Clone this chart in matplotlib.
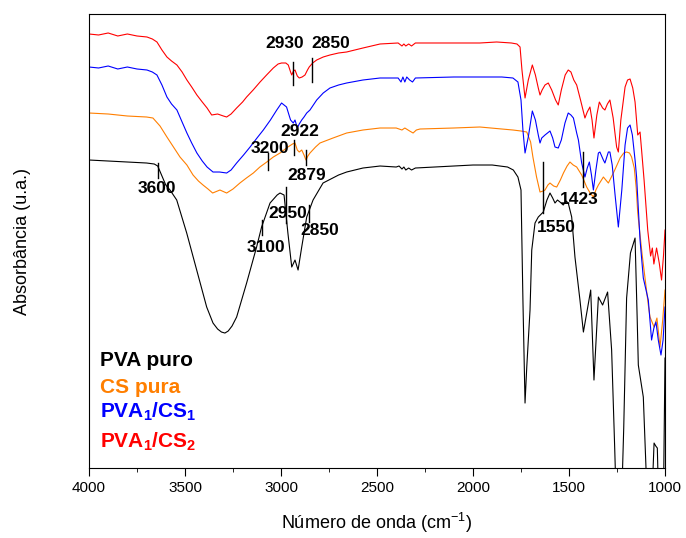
import matplotlib
matplotlib.use("Agg")
import matplotlib.pyplot as plt
import numpy as np

plt.rcParams["font.family"] = ["Liberation Sans", "DejaVu Sans"]
plt.rcParams["mathtext.fontset"] = "custom"
plt.rcParams["mathtext.rm"] = "Liberation Sans"
plt.rcParams["mathtext.bf"] = "Liberation Sans:bold"

# FTIR spectra (wavenumber cm-1, absorbance in arbitrary units)
pva_w = [4000, 3900, 3800, 3700, 3660, 3642, 3600, 3578, 3543, 3491, 3439, 3387, 3354, 3330,
         3310, 3292, 3275, 3255, 3231, 3179, 3127, 3101, 3057, 3020, 3005, 2984, 2964, 2944,
         2927, 2911, 2892, 2866, 2833, 2781, 2700, 2658, 2573, 2484, 2400, 2385, 2370, 2360,
         2350, 2335, 2320, 2300, 2200, 2000, 1900, 1820, 1790, 1766, 1750, 1740, 1729, 1720,
         1703, 1694, 1677, 1660, 1634, 1615, 1599, 1585, 1573, 1560, 1547, 1530, 1515, 1504,
         1486, 1469, 1443, 1425, 1405, 1387, 1370, 1347, 1325, 1299, 1278, 1262, 1250, 1230,
         1215, 1200, 1180, 1156, 1145, 1139, 1113, 1099, 1085, 1070, 1057, 1048, 1040, 1030,
         1020, 1008, 1000]
pva_a = [308, 307, 306, 305, 304, 302, 283, 278, 268, 235, 198, 161, 145, 139,
         136, 135, 137, 142, 151, 185, 221, 241, 265, 273, 275, 273, 235, 201,
         208, 198, 221, 251, 268, 285, 293, 296, 300, 302, 301, 302, 299, 301,
         298, 300, 298, 300, 301, 303, 303, 301, 298, 291, 278, 168, 65, 101,
         158, 218, 245, 251, 256, 268, 275, 270, 265, 268, 266, 263, 267, 265,
         251, 211, 168, 136, 158, 178, 88, 171, 163, 176, 118, 20, -60, -60,
         40, 170, 215, 230, 150, 103, 71, 0, -60, -40, 25, 22, 20, -60,
         -60, -30, 110]

cs_w = [4000, 3900, 3800, 3700, 3667, 3630, 3594, 3560, 3526, 3490, 3458, 3430, 3406, 3380,
        3356, 3318, 3283, 3250, 3214, 3180, 3144, 3110, 3074, 3040, 3005, 2964, 2940, 2927,
        2915, 2905, 2892, 2880, 2870, 2860, 2849, 2820, 2797, 2729, 2658, 2573, 2484, 2400,
        2370, 2355, 2330, 2312, 2295, 2276, 2100, 1964, 1850, 1792, 1750, 1720, 1700, 1688,
        1669, 1651, 1635, 1625, 1610, 1599, 1580, 1564, 1545, 1529, 1510, 1495, 1478, 1460,
        1434, 1408, 1390, 1373, 1360, 1347, 1321, 1308, 1295, 1269, 1250, 1234, 1215, 1200,
        1185, 1174, 1160, 1150, 1142, 1120, 1087, 1078, 1057, 1042, 1026, 1012, 1000]
cs_a = [355, 354, 352, 351, 350, 342, 331, 321, 311, 303, 293, 287, 283, 279,
        275, 278, 275, 279, 285, 290, 295, 301, 306, 311, 315, 321, 324, 325,
        318, 316, 318, 313, 308, 312, 315, 321, 325, 330, 335, 338, 340, 340,
        338, 340, 337, 335, 338, 339, 340, 341, 339, 338, 337, 336, 326, 311,
        291, 276, 277, 278, 283, 285, 282, 281, 288, 295, 302, 306, 303, 301,
        293, 281, 275, 271, 278, 283, 291, 288, 285, 295, 303, 310, 315, 316,
        315, 311, 300, 280, 255, 215, 163, 151, 141, 150, 121, 148, 178]

pc1_w = [4000, 3950, 3900, 3850, 3800, 3750, 3698, 3670, 3646, 3620, 3594, 3570, 3542, 3515,
         3490, 3465, 3438, 3410, 3385, 3354, 3320, 3283, 3260, 3231, 3195, 3161, 3125, 3092,
         3055, 3022, 2997, 2971, 2955, 2950, 2936, 2927, 2915, 2905, 2892, 2880, 2866, 2849,
         2814, 2780, 2745, 2700, 2658, 2573, 2484, 2390, 2375, 2365, 2355, 2345, 2330, 2315,
         2300, 2100, 1964, 1850, 1792, 1766, 1750, 1740, 1729, 1712, 1691, 1675, 1660, 1651,
         1642, 1625, 1599, 1585, 1573, 1556, 1540, 1521, 1504, 1490, 1477, 1460, 1451, 1434,
         1417, 1405, 1394, 1383, 1373, 1360, 1347, 1339, 1321, 1313, 1295, 1287, 1275, 1260,
         1243, 1225, 1208, 1195, 1182, 1170, 1156, 1148, 1130, 1113, 1087, 1070, 1058, 1047,
         1035, 1021, 1010, 1000]
pc1_a = [401, 400, 402, 399, 401, 399, 398, 396, 393, 383, 371, 364, 358, 346,
         335, 325, 315, 307, 301, 296, 296, 295, 298, 305, 313, 321, 330, 338,
         348, 358, 365, 361, 351, 348, 345, 348, 340, 344, 348, 351, 355, 358,
         368, 375, 380, 383, 385, 388, 390, 390, 386, 391, 386, 391, 388, 386,
         390, 391, 391, 391, 390, 386, 368, 338, 315, 331, 357, 348, 333, 325,
         330, 333, 337, 330, 321, 320, 328, 345, 355, 353, 350, 335, 328, 305,
         291, 300, 306, 293, 278, 298, 315, 316, 308, 305, 316, 316, 303, 273,
         241, 278, 323, 340, 343, 333, 308, 291, 228, 190, 168, 128, 140, 146,
         128, 113, 128, 161]

pc2_w = [4000, 3950, 3900, 3850, 3800, 3750, 3698, 3670, 3646, 3620, 3594, 3570, 3542, 3515,
         3490, 3465, 3438, 3410, 3385, 3361, 3330, 3300, 3283, 3260, 3231, 3200, 3179, 3145,
         3109, 3075, 3040, 3015, 2997, 2975, 2962, 2950, 2944, 2935, 2927, 2915, 2905, 2890,
         2875, 2862, 2853, 2835, 2814, 2780, 2745, 2700, 2658, 2573, 2484, 2390, 2370, 2360,
         2350, 2335, 2320, 2300, 2100, 1964, 1877, 1800, 1771, 1755, 1745, 1729, 1712, 1691,
         1675, 1660, 1651, 1640, 1625, 1608, 1590, 1570, 1556, 1540, 1520, 1504, 1490, 1475,
         1460, 1440, 1417, 1405, 1391, 1380, 1370, 1355, 1342, 1325, 1313, 1300, 1287, 1270,
         1252, 1243, 1230, 1208, 1195, 1182, 1168, 1156, 1142, 1130, 1122, 1109, 1090, 1075,
         1066, 1058, 1044, 1030, 1018, 1008, 1000]
pc2_a = [434, 433, 435, 432, 434, 432, 431, 429, 426, 418, 411, 407, 403, 396,
         388, 381, 373, 366, 360, 353, 354, 352, 351, 354, 360, 366, 371, 378,
         386, 393, 400, 404, 405, 405, 403, 396, 393, 397, 398, 392, 390, 391,
         393, 398, 401, 405, 408, 411, 413, 415, 416, 420, 424, 425, 422, 424,
         422, 424, 422, 425, 425, 425, 426, 425, 424, 421, 398, 370, 388, 403,
         393, 380, 373, 378, 383, 385, 378, 368, 363, 378, 393, 398, 396, 388,
         383, 368, 350, 356, 361, 348, 330, 353, 366, 360, 358, 364, 368, 350,
         321, 316, 348, 381, 388, 389, 380, 366, 333, 336, 318, 288, 238, 212,
         220, 204, 220, 205, 188, 212, 238]

# peak markers: tick position, tick span, label text and label position
mark_w = [2936, 2840, 2931, 3066, 2870, 3642, 2974, 2853, 3101, 1634, 1425]
mark_lo = [383, 386, 313, 298, 303, 290, 245, 246, 233, 255, 281]
mark_hi = [406, 410, 328, 315, 318, 305, 281, 263, 248, 306, 316]
mark_txt = ["2930", "2850", "2922", "3200", "2879", "3600", "2950", "2850", "3100", "1550", "1423"]
mark_tx = [2979, 2740, 2901, 3057, 2865, 3646, 2964, 2797, 3078, 1568, 1448]
mark_ty = [424, 424, 337, 320, 293, 280, 255, 238, 221, 241, 269]

fig = plt.figure(figsize=(6.86, 5.38), dpi=100)
ax = fig.add_axes([0.1297, 0.130, 0.8397, 0.844])

ax.plot(pva_w, pva_a, color="black", lw=0.8)
ax.plot(cs_w, cs_a, color="#FF7F00", lw=0.8)
ax.plot(pc1_w, pc1_a, color="#0000FF", lw=0.8)
ax.plot(pc2_w, pc2_a, color="#FF0000", lw=0.8)

for w, lo, hi, t, tx, ty in zip(mark_w, mark_lo, mark_hi, mark_txt, mark_tx, mark_ty):
    ax.plot([w, w], [lo, hi], color="black", lw=1.0)
    ax.text(tx, ty, t, ha="center", va="center", fontsize=12.5, fontweight="bold")

legend_txt = ["PVA puro", "CS pura", r"$\mathbf{PVA_1/CS_1}$", r"$\mathbf{PVA_1/CS_2}$"]
legend_col = ["black", "#FF7F00", "#0000FF", "#FF0000"]
legend_y = [108, 81, 56, 26]
for t, c, y in zip(legend_txt, legend_col, legend_y):
    ax.text(3940, y, t, color=c, fontsize=15, fontweight="bold", ha="left", va="center")

ax.set_xlim(4000, 1000)
ax.set_ylim(0, 454)
ax.set_xticks([4000, 3500, 3000, 2500, 2000, 1500, 1000])
ax.set_xticks(np.arange(1250, 4000, 500), minor=True)
ax.set_yticks([])
ax.tick_params(axis="x", which="major", length=6, labelsize=11)
ax.tick_params(axis="x", which="minor", length=3)
ax.set_xlabel(r"Número de onda (cm$^{-1}$)", fontsize=13)
ax.set_ylabel("Absorbância (u.a.)", fontsize=13)
ax.xaxis.set_label_coords(0.5, -0.095)
ax.yaxis.set_label_coords(-0.101, 0.5)

fig.savefig("out.png", dpi=100)
